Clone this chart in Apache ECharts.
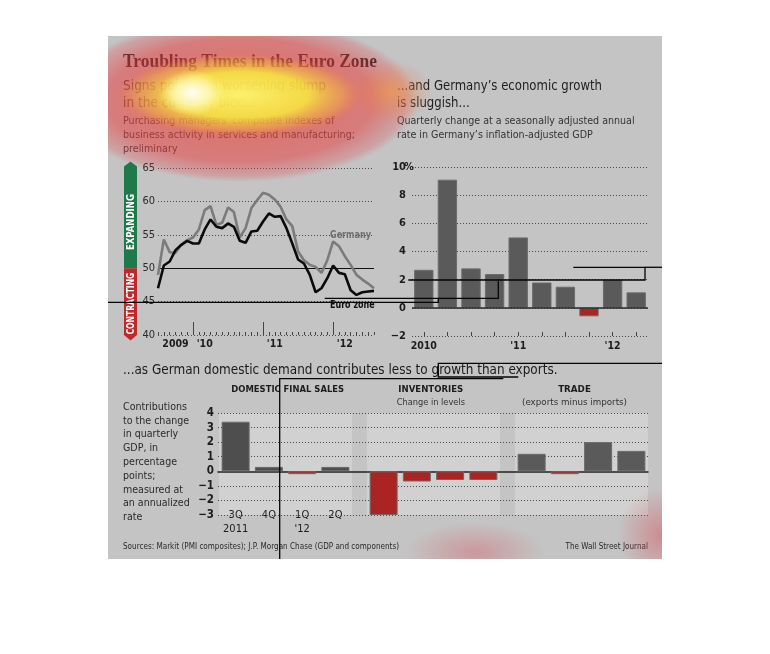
<!DOCTYPE html>
<html>
<head>
<meta charset="utf-8">
<title>Troubling Times in the Euro Zone</title>
<script src="https://cdn.jsdelivr.net/npm/echarts@6.0.0/dist/echarts.min.js"></script>
<style>
html,body{margin:0;padding:0;background:#ffffff;}
#chart{width:770px;height:654px;}
</style>
</head>
<body>
<div id="chart"></div>
<script>
// ---------------- data ----------------
const pmiMonths = [
  '2009-07','2009-08','2009-09','2009-10','2009-11','2009-12',
  '2010-01','2010-02','2010-03','2010-04','2010-05','2010-06','2010-07','2010-08','2010-09','2010-10','2010-11','2010-12',
  '2011-01','2011-02','2011-03','2011-04','2011-05','2011-06','2011-07','2011-08','2011-09','2011-10','2011-11','2011-12',
  '2012-01','2012-02','2012-03','2012-04','2012-05','2012-06','2012-07','2012-08'
];
const germanyPMI = [49.0, 54.3, 52.4, 52.3, 53.5, 54.2, 54.6, 55.8, 58.7, 59.3, 56.5, 56.8, 59.1, 58.4, 54.6, 56.0, 59.0, 60.2,
  61.3, 61.0, 60.3, 59.2, 57.3, 56.3, 52.5, 51.2, 50.5, 50.2, 49.3, 51.2, 54.0, 53.3, 51.8, 50.5, 49.0, 48.3, 47.7, 47.0];
const euroZonePMI = [47.0, 50.4, 51.0, 52.7, 53.5, 54.1, 53.7, 53.7, 55.8, 57.3, 56.2, 56.0, 56.7, 56.2, 54.1, 53.8, 55.5, 55.6,
  57.0, 58.2, 57.7, 57.8, 56.0, 53.7, 51.3, 50.7, 49.0, 46.4, 47.0, 48.5, 50.4, 49.3, 49.1, 46.7, 46.0, 46.4, 46.5, 46.6];
const pmiYearLabels = ['2009', "'10", "'11", "'12"];
const pmiYearLabelAt = ['2009-10', '2010-03', '2011-03', '2012-03'];

const gdpQuarters = ['2010Q1','2010Q2','2010Q3','2010Q4','2011Q1','2011Q2','2011Q3','2011Q4','2012Q1','2012Q2'];
const gdpGrowth = [2.7, 9.1, 2.8, 2.4, 5.0, 1.8, 1.5, -0.6, 2.0, 1.1];
const gdpYearLabels = ['2010', "'11", "'12"];
const gdpYearLabelAt = ['2010Q1', '2011Q1', '2012Q1'];

const contribQuarters = ['3Q', '4Q', '1Q', '2Q'];
const contribYears = ['2011', '', "'12", ''];
const domesticFinalSales = [3.4, 0.3, -0.2, 0.3];
const inventories = [-3.0, -0.7, -0.6, -0.6];
const trade = [1.2, -0.2, 2.0, 1.4];

// ---------------- styles ----------------
const NARROW = '"Liberation Sans Narrow","DejaVu Sans Condensed","Liberation Sans",sans-serif';
const SERIF = '"Liberation Serif","DejaVu Serif",serif';
const PAGE = '#c4c4c4';
const PANEL = '#d1d1d1';
const BAR = '#5a5a5a';
const BAR_DARK = '#4e4e4e';
const RED = '#ab2323';
const INK = '#1c1c1c';
const minus = v => String(v).replace('-', '\u2212');
const dots = [1, 2];

const chart = echarts.init(document.getElementById('chart'), null, {renderer: 'canvas'});

function barData(arr, pos) {
  return arr.map(v => ({value: v, itemStyle: {color: v < 0 ? RED : pos}}));
}

const panelGrid = (left) => ({left: left, top: 413, width: 133, height: 102, show: true,
  backgroundColor: PANEL, borderWidth: 0, outerBoundsMode: 'none'});

const option = {
  animation: false,
  backgroundColor: '#ffffff',
  textStyle: {fontFamily: NARROW},
  grid: [
    {left: 158, top: 168, width: 216, height: 167, outerBoundsMode: 'none'},
    {left: 412, top: 167, width: 236, height: 169, outerBoundsMode: 'none'},
    {left: 218, top: 413, width: 430, height: 102, outerBoundsMode: 'none'},
    panelGrid(219), panelGrid(367), panelGrid(515)
  ],
  xAxis: [
    { // 0: PMI months, minor ticks + labels
      gridIndex: 0, type: 'category', data: pmiMonths, boundaryGap: false,
      axisLine: {show: false},
      axisTick: {show: true, inside: true, length: 3, interval: 0, lineStyle: {color: '#444'}},
      axisLabel: {
        interval: (i, v) => pmiYearLabelAt.indexOf(v) >= 0,
        formatter: v => pmiYearLabels[pmiYearLabelAt.indexOf(v)] || '',
        margin: 4, fontSize: 10.5, fontWeight: 'bold', color: INK, fontFamily: NARROW
      },
      splitLine: {show: false}
    },
    { // 1: PMI months, year ticks
      gridIndex: 0, type: 'category', data: pmiMonths, boundaryGap: false, position: 'bottom',
      axisLine: {show: false},
      axisTick: {show: true, inside: true, length: 13, interval: (i, v) => v.slice(5) === '01', lineStyle: {color: '#444'}},
      axisLabel: {show: false}, splitLine: {show: false}
    },
    { // 2: GDP quarters
      gridIndex: 1, type: 'category', data: gdpQuarters,
      axisLine: {show: false, onZero: false},
      axisTick: {show: true, inside: true, length: 4, alignWithLabel: true, interval: 0, lineStyle: {color: '#444'}},
      axisLabel: {
        interval: (i, v) => gdpYearLabelAt.indexOf(v) >= 0,
        formatter: v => gdpYearLabels[gdpYearLabelAt.indexOf(v)] || '',
        margin: 5, fontSize: 10.5, fontWeight: 'bold', color: INK, fontFamily: NARROW
      }
    },
    { // 3: contributions zero line
      gridIndex: 2, type: 'value', min: 0, max: 1,
      axisLine: {show: true, onZero: true, lineStyle: {color: '#222', width: 1.5}},
      axisTick: {show: false}, axisLabel: {show: false}, splitLine: {show: false}
    },
    { // 4: domestic final sales
      gridIndex: 3, type: 'category', data: contribQuarters,
      axisLine: {show: false, onZero: false}, axisTick: {show: false},
      axisLabel: {
        interval: 0, margin: -7, fontSize: 11, color: INK, fontFamily: NARROW, lineHeight: 14,
        formatter: (v, i) => contribYears[i] ? v + '\n' + contribYears[i] : v
      }
    },
    {gridIndex: 4, type: 'category', data: contribQuarters, axisLine: {show: false, onZero: false}, axisTick: {show: false}, axisLabel: {show: false}},
    {gridIndex: 5, type: 'category', data: contribQuarters, axisLine: {show: false, onZero: false}, axisTick: {show: false}, axisLabel: {show: false}}
  ],
  yAxis: [
    {
      gridIndex: 0, type: 'value', min: 40, max: 65, interval: 5,
      axisLine: {show: false}, axisTick: {show: false},
      axisLabel: {margin: 3, fontSize: 11, color: '#2a2a2a', fontFamily: NARROW},
      splitLine: {show: true, lineStyle: {color: '#4a4a4a', type: dots, width: 1}}
    },
    {
      gridIndex: 1, type: 'value', min: -2, max: 10, interval: 2,
      axisLine: {show: false}, axisTick: {show: false},
      axisLabel: {
        margin: -2,
        formatter: v => v === 10 ? '{n|10}{p|%}' : '{n|' + minus(v) + '}{s| }',
        rich: {
          n: {fontSize: 11, fontWeight: 'bold', color: INK, fontFamily: NARROW},
          p: {fontSize: 11, fontWeight: 'bold', color: INK, fontFamily: NARROW, width: 8},
          s: {fontSize: 11, width: 8}
        }
      },
      splitLine: {show: true, lineStyle: {color: '#4a4a4a', type: dots, width: 1}}
    },
    {
      gridIndex: 2, type: 'value', min: -3, max: 4, interval: 1, z: 1,
      axisLine: {show: false}, axisTick: {show: false},
      axisLabel: {margin: 4, fontSize: 11.5, fontWeight: 'bold', color: INK, fontFamily: NARROW, formatter: v => minus(v)},
      splitLine: {show: true, lineStyle: {color: '#4a4a4a', type: dots, width: 1}}
    },
    {gridIndex: 3, type: 'value', min: -3, max: 4, show: false},
    {gridIndex: 4, type: 'value', min: -3, max: 4, show: false},
    {gridIndex: 5, type: 'value', min: -3, max: 4, show: false}
  ],
  series: [
    {
      name: 'Germany', type: 'line', xAxisIndex: 0, yAxisIndex: 0, data: germanyPMI,
      symbol: 'none', z: 3, lineStyle: {color: '#7b7b7b', width: 2.6}
    },
    {
      name: 'Euro zone', type: 'line', xAxisIndex: 0, yAxisIndex: 0, data: euroZonePMI,
      symbol: 'none', z: 4, lineStyle: {color: '#0b0b0b', width: 2.6},
      markLine: {silent: true, symbol: 'none', label: {show: false}, z: 2,
        lineStyle: {color: '#111', width: 1, type: 'solid'}, data: [{yAxis: 50}]}
    },
    {
      name: 'GDP', type: 'bar', xAxisIndex: 2, yAxisIndex: 1, data: barData(gdpGrowth, BAR),
      barCategoryGap: '18%', itemStyle: {borderColor: '#6c6c6c', borderWidth: 1},
      markLine: {silent: true, symbol: 'none', label: {show: false},
        lineStyle: {color: '#2a2a2a', width: 1.5, type: 'solid'}, data: [{yAxis: 0}]}
    },
    {name: 'Domestic final sales', type: 'bar', xAxisIndex: 4, yAxisIndex: 3, data: barData(domesticFinalSales, BAR_DARK),
      barWidth: 28, itemStyle: {borderColor: '#6a6a6a', borderWidth: 1}},
    {name: 'Inventories', type: 'bar', xAxisIndex: 5, yAxisIndex: 4, data: barData(inventories, BAR_DARK),
      barWidth: 28, itemStyle: {borderColor: '#6a6a6a', borderWidth: 1}},
    {name: 'Trade', type: 'bar', xAxisIndex: 6, yAxisIndex: 5, data: barData(trade, BAR),
      barWidth: 28, itemStyle: {borderColor: '#6a6a6a', borderWidth: 1}}
  ]
};
chart.setOption(option);

// ---------------- graphics (texts, expanding/contracting bar, heat overlay) ----------------
const measureCtx = document.createElement('canvas').getContext('2d');
function measure(text, size, weight, family) {
  measureCtx.font = (weight || 'normal') + ' ' + size + 'px ' + family;
  return measureCtx.measureText(text).width;
}
// text whose horizontal scale is fitted so that `refLine` spans `refWidth` pixels
function txt(x, y, text, o) {
  o = o || {};
  const size = o.size || 12, weight = o.weight || 'normal', font = o.font || NARROW;
  let sx = 1;
  if (o.fit) sx = o.fit[1] / measure(o.fit[0], size, weight, font);
  return {
    type: 'text', x: x, y: y, z: o.z || 10, silent: true, rotation: o.rotation || 0,
    scaleX: sx,
    style: {
      text: text, fill: o.color || INK, fontFamily: font, fontSize: size,
      fontWeight: weight, align: o.align || 'left', verticalAlign: o.va || 'middle',
      lineHeight: o.lh || undefined
    }
  };
}
const PANEL_BOX = {x0: 108, y0: 36, x1: 662, y1: 559};
function heat(cx, cy, rx, ry, stops) {
  const s = ry / rx;
  return {
    type: 'rect', x: cx, y: cy, scaleY: s, z: 100, silent: true,
    shape: {x: PANEL_BOX.x0 - cx, y: (PANEL_BOX.y0 - cy) / s, width: PANEL_BOX.x1 - PANEL_BOX.x0, height: (PANEL_BOX.y1 - PANEL_BOX.y0) / s},
    style: {fill: {type: 'radial', x: 0, y: 0, r: rx, global: true, colorStops: stops}}
  };
}
function stroke(points) {
  return {type: 'polyline', z: 101, silent: true, shape: {points: points},
    style: {stroke: '#050505', lineWidth: 1.3, fill: null}};
}
const y65 = chart.convertToPixel({yAxisIndex: 0}, 65);
const y50 = chart.convertToPixel({yAxisIndex: 0}, 50);
const y40 = chart.convertToPixel({yAxisIndex: 0}, 40);
const bx0 = 124, bx1 = 137, bxm = (bx0 + bx1) / 2;

const expandLen = 56, contractLen = 62;
const graphics = [
  {type: 'rect', z: -10, silent: true, shape: {x: PANEL_BOX.x0, y: PANEL_BOX.y0, width: PANEL_BOX.x1 - PANEL_BOX.x0, height: PANEL_BOX.y1 - PANEL_BOX.y0}, style: {fill: PAGE}},
  // expanding / contracting bar
  {type: 'polygon', z: 5, silent: true, shape: {points: [[bx0, y65 - 1.5], [bxm, y65 - 6.5], [bx1, y65 - 1.5], [bx1, y50], [bx0, y50]]}, style: {fill: '#1e7a4b'}},
  {type: 'polygon', z: 5, silent: true, shape: {points: [[bx0, y50], [bx1, y50], [bx1, y40], [bxm, y40 + 5.5], [bx0, y40]]}, style: {fill: '#bd2a2e'}},
  txt(bxm + 0.5, (y65 + y50) / 2 + 4, 'EXPANDING', {rotation: Math.PI / 2, color: '#ffffff', weight: 'bold', size: 10, align: 'center', z: 6, fit: ['EXPANDING', expandLen]}),
  txt(bxm + 0.5, (y50 + y40) / 2 + 2, 'CONTRACTING', {rotation: Math.PI / 2, color: '#ffffff', weight: 'bold', size: 10, align: 'center', z: 6, fit: ['CONTRACTING', contractLen]}),
  // titles and notes
  txt(123, 62, 'Troubling Times in the Euro Zone', {font: SERIF, size: 18, weight: 'bold', color: '#1e1a1a', fit: ['Troubling Times in the Euro Zone', 254]}),
  txt(123, 77.5, 'Signs point to a worsening slump\nin the currency bloc...', {size: 14, lh: 17, va: 'top', color: '#2b2b2b', fit: ['Signs point to a worsening slump', 203]}),
  txt(123, 114, 'Purchasing managers\u2019 composite indexes of\nbusiness activity in services and manufacturing;\npreliminary', {size: 10.5, lh: 14.2, va: 'top', color: '#333', fit: ['business activity in services and manufacturing;', 232]}),
  txt(397, 77.5, '...and Germany\u2019s economic growth\nis sluggish...', {size: 14, lh: 17, va: 'top', color: '#1e1e1e', fit: ['...and Germany\u2019s economic growth', 205]}),
  txt(397, 114.8, 'Quarterly change at a seasonally adjusted annual\nrate in Germany\u2019s inflation-adjusted GDP', {size: 10.5, lh: 13.4, va: 'top', color: '#333', fit: ['Quarterly change at a seasonally adjusted annual', 237.6]}),
  txt(330, 235, 'Germany', {size: 10.5, weight: 'bold', color: '#6f6f6f', fit: ['Germany', 41]}),
  txt(330, 305.5, 'Euro zone', {size: 10.5, weight: 'bold', color: '#111', fit: ['Euro zone', 44.7]}),
  txt(123, 370, '...as German domestic demand contributes less to growth than exports.', {size: 14, color: '#1a1a1a', fit: ['...as German domestic demand contributes less to growth than exports.', 434.5]}),
  txt(287.7, 390, 'DOMESTIC FINAL SALES', {size: 9.5, weight: 'bold', align: 'center', fit: ['DOMESTIC FINAL SALES', 112.7]}),
  txt(430.8, 390, 'INVENTORIES', {size: 9.5, weight: 'bold', align: 'center', fit: ['INVENTORIES', 65]}),
  txt(430.8, 402.5, 'Change in levels', {size: 9.5, align: 'center', color: '#333', fit: ['Change in levels', 68.3]}),
  txt(574.5, 390, 'TRADE', {size: 9.5, weight: 'bold', align: 'center', fit: ['TRADE', 32.7]}),
  txt(574.5, 402.5, '(exports minus imports)', {size: 9.5, align: 'center', color: '#333', fit: ['(exports minus imports)', 105]}),
  txt(123, 400, 'Contributions\nto the change\nin quarterly\nGDP, in\npercentage\npoints;\nmeasured at\nan annualized\nrate', {size: 11, lh: 13.8, va: 'top', color: '#2a2a2a', fit: ['an annualized', 66.7]}),
  txt(123, 546.5, 'Sources: Markit (PMI composites); J.P. Morgan Chase (GDP and components)', {size: 9.5, color: '#2a2a2a', fit: ['Sources: Markit (PMI composites); J.P. Morgan Chase (GDP and components)', 276]}),
  txt(648, 546.5, 'The Wall Street Journal', {size: 9.5, color: '#2a2a2a', align: 'right', fit: ['The Wall Street Journal', 82.5]}),
  // heat overlay
  heat(240, 100, 178, 82, [
    {offset: 0, color: 'rgba(236,70,55,0.70)'}, {offset: 0.75, color: 'rgba(230,65,65,0.55)'},
    {offset: 0.93, color: 'rgba(225,75,80,0.28)'}, {offset: 1, color: 'rgba(220,80,90,0)'}]),
  heat(240, 95, 125, 42, [
    {offset: 0, color: 'rgba(255,255,110,0.9)'}, {offset: 0.55, color: 'rgba(250,242,60,0.8)'},
    {offset: 0.82, color: 'rgba(245,185,60,0.45)'}, {offset: 1, color: 'rgba(240,120,60,0)'}]),
  heat(192, 93, 34, 23, [
    {offset: 0, color: 'rgba(255,255,255,0.95)'}, {offset: 0.5, color: 'rgba(255,255,210,0.7)'},
    {offset: 1, color: 'rgba(255,255,150,0)'}]),
  heat(392, 92, 40, 32, [
    {offset: 0, color: 'rgba(245,155,60,0.6)'}, {offset: 1, color: 'rgba(240,110,60,0)'}]),
  heat(475, 552, 70, 30, [
    {offset: 0, color: 'rgba(215,70,80,0.35)'}, {offset: 1, color: 'rgba(215,70,80,0)'}]),
  heat(662, 535, 45, 48, [
    {offset: 0, color: 'rgba(215,70,80,0.45)'}, {offset: 1, color: 'rgba(215,70,80,0)'}]),
  // thin black scan strokes present in the reference picture
  stroke([[108, 302.3], [438.3, 302.3], [438.3, 298.3], [324.7, 298.3]]),
  stroke([[438.3, 298.3], [498.3, 298.3], [498.3, 280], [408.3, 280]]),
  stroke([[498.3, 280], [645, 280], [645, 267.3], [573.3, 267.3]]),
  stroke([[645, 267.3], [662, 267.3]]),
  stroke([[279.7, 559], [279.7, 378.7], [503.3, 378.7]]),
  stroke([[518.3, 377], [438.3, 377], [438.3, 363.3], [662, 363.3]])
];
chart.setOption({graphic: graphics});
</script>
</body>
</html>
